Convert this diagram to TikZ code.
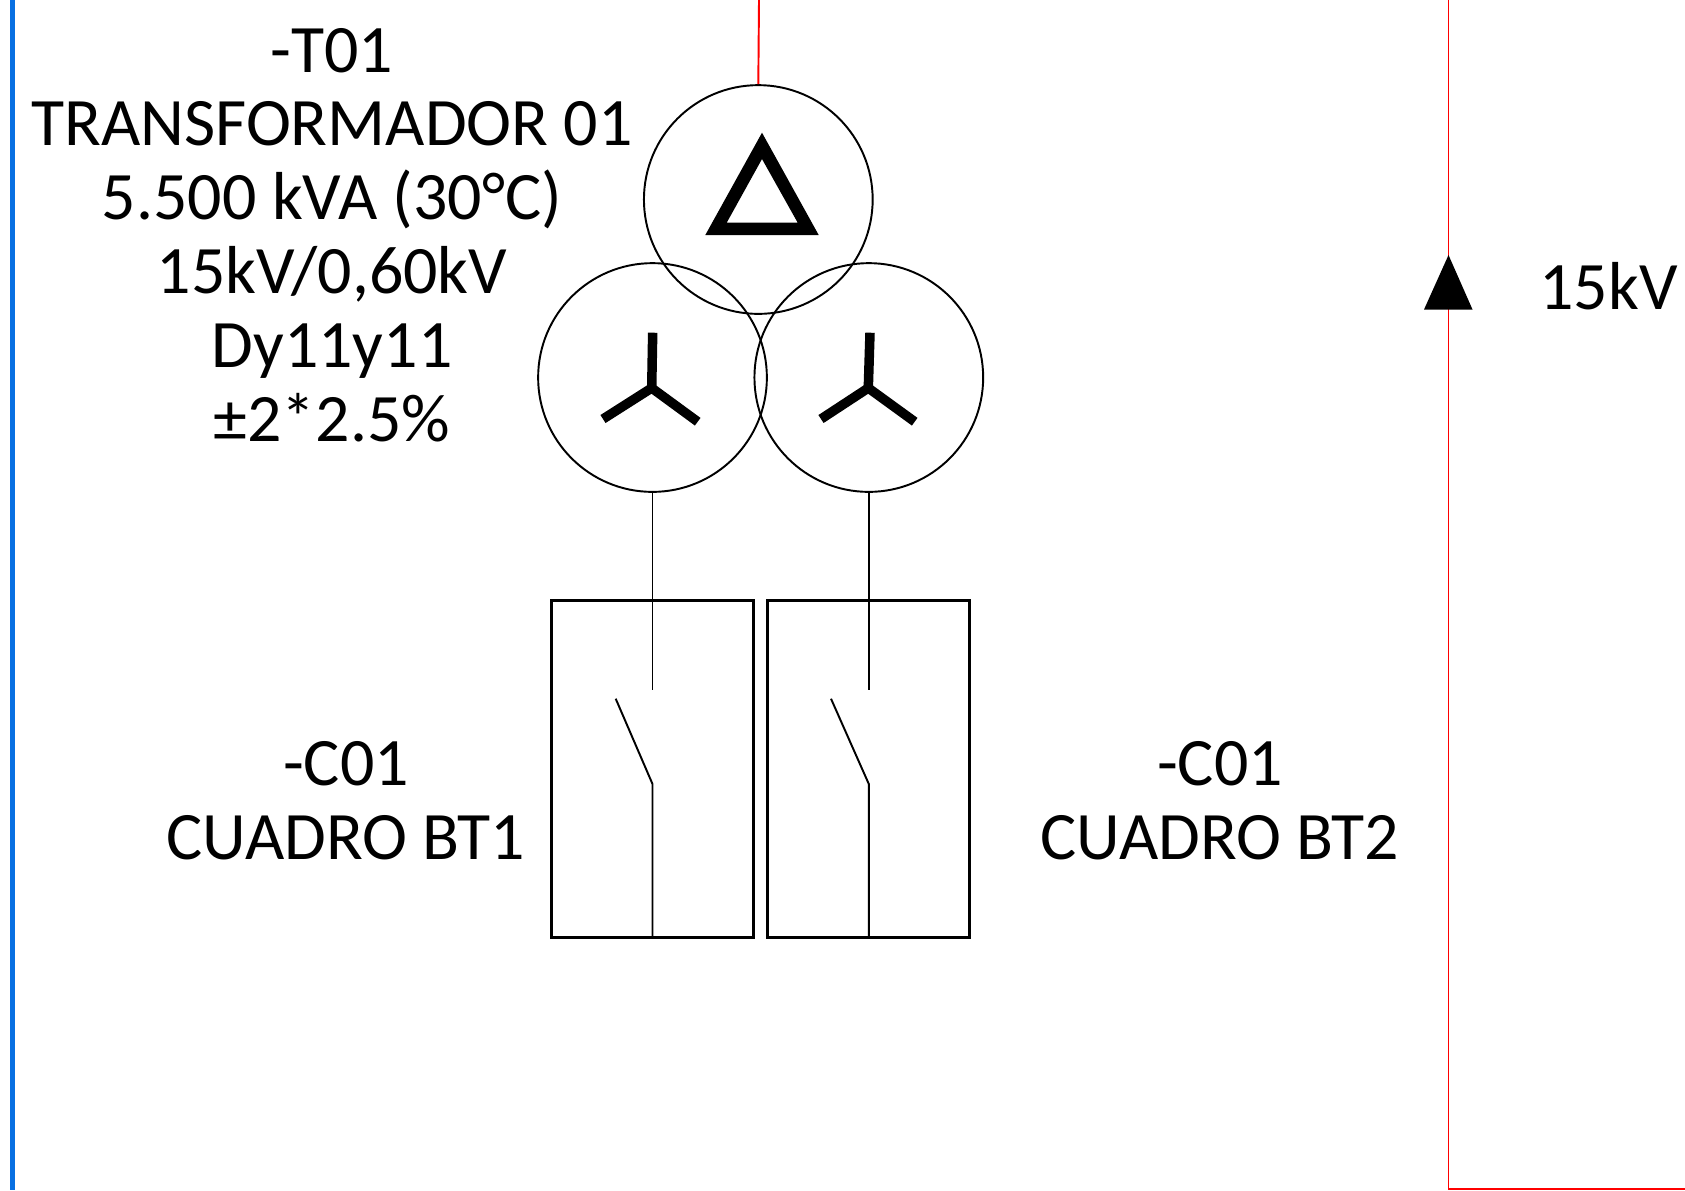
\documentclass[tikz,border=0pt]{standalone}
\usepackage{fontspec}
\setmainfont{Carlito}
\tikzset{
	wind/.style={draw,circle,inner sep=0pt,minimum size=2.286cm,line width=0.55pt},
	panel/.style={draw,rectangle,inner sep=0pt,minimum height=3.366cm,line width=0.8pt},
	lbl/.style={align=center,inner sep=0pt,font=\fontsize{19.3}{21}\selectfont},
	wire/.style={line width=0.55pt},
	feed/.style={red,line width=0.55pt},
	star/.style={line width=2.7pt}
}
\definecolor{frameblue}{RGB}{8,112,226}
\begin{document}
\begin{tikzpicture}[x=0.01cm,y=-0.01cm]
	\useasboundingbox (0,0) rectangle (1685,1190);
	\fill[frameblue] (10,0) rectangle (14.7,1190);
	\node[wind] (w0) at (758.3,199.5) {};
	\node[wind] (w1) at (652.5,377.5) {};
	\node[wind] (w2) at (868.8,377.5) {};
	\node[panel,minimum width=2.016cm] (c1) at (652.5,769) {};
	\node[panel,minimum width=2.02cm] (c2) at (868.3,769) {};

	\node[lbl] (t0) at (332,235) {-T01\\TRANSFORMADOR 01\\5.500 kVA (30°C)\\15kV/0,60kV\\Dy11y11\\±2*2.5\%};
	\node[lbl] (t1) at (346,800.5) {-C01\\CUADRO BT1};
	\node[lbl] (t2) at (1220,800.5) {-C01\\CUADRO BT2};
	\node[lbl] (t3) at (1608.5,286) {15kV};

	% red feeders
	\coordinate (r0) at (759,0);
	\coordinate (r1) at (1448.5,0);
	\coordinate (r2) at (1448.5,1189);
	\coordinate (r3) at (1685,1189);
	\draw[feed] (r0) -- (w0.north);
	\draw[feed] (r1) -- (r2) -- (r3);
	\fill (1448.5,255) -- (1472.5,309.5) -- (1424,309.5) -- cycle;

	% delta
	\fill[even odd rule] (762,132.7) -- (818.7,235) -- (705.3,235) -- cycle
		(762,159) -- (797.7,222.7) -- (726.7,222.7) -- cycle;

	% stars
	\def\stars {651.7/652.7/603/697.7, 868.3/870/821/914.7}  % list elements
	\foreach \m\t\l\r in \stars
	{	\draw[star] (\t,332.7) -- (\m,388);
		\draw[star] (\l,419) -- (\m,388) -- (\r,421.7);
	}

	% outgoing wires and switches
	\def\list {w1/c1/615.7, w2/c2/831}  % list elements
	\foreach \u\v\b in \list
	{	\coordinate (\v top) at (\u.south |- 0,690);
		\coordinate (\v hinge) at (\u.south |- 0,784);
		\coordinate (\v tip) at (\b,698.7);
		\draw[wire] (\u.south) -- (\v top);
		\draw[wire] (\v tip) -- (\v hinge) -- (\u.south |- \v.south);
	}
\end{tikzpicture}
\end{document}
